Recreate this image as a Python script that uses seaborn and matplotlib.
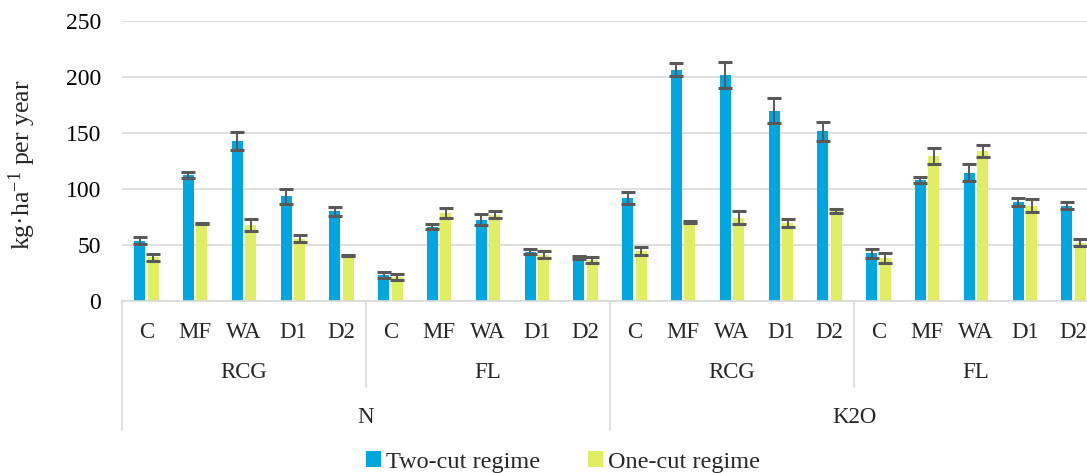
import matplotlib
matplotlib.use("Agg")
import matplotlib.pyplot as plt
import matplotlib.transforms as mtransforms
import seaborn as sns
import pandas as pd
import numpy as np

# ---- data ----
nutrients = ["N", "K2O"]
species = ["RCG", "FL"]
treatments = ["C", "MF", "WA", "D1", "D2"]
regimes = ["Two-cut regime", "One-cut regime"]

two_cut = [54, 112.5, 142.5, 93.5, 80,
           23, 66.5, 72.5, 44, 39,
           92, 206.5, 201.5, 170, 151.5,
           42.5, 108, 114.5, 88.5, 85]
two_cut_err = [3.5, 3, 8, 6.5, 4.2,
               2.5, 2, 5, 2, 1.3,
               5.5, 5.6, 11.7, 11.5, 8.6,
               4.3, 2.5, 7.5, 3.3, 3.3]
one_cut = [39, 69, 67.5, 55.5, 40.5,
           21.5, 78.5, 77, 41.5, 36.5,
           44.5, 70.5, 74.5, 69.5, 80.5,
           38.5, 129.5, 134, 85, 52]
one_cut_err = [3.3, 0.5, 5.3, 3, 0.7,
               2.7, 4.2, 3, 3.3, 2.4,
               3.8, 0.5, 5.8, 3.3, 1.7,
               4.4, 7, 5, 5.8, 3.3]

colors = ["#00A6DF", "#DFEE63"]

# ---- build long table ----
keys, nut_l, sp_l, tr_l = [], [], [], []
for n in nutrients:
    for s in species:
        for t in treatments:
            keys.append(f"{n}|{s}|{t}")
            nut_l.append(n); sp_l.append(s); tr_l.append(t)

df = pd.DataFrame({
    "key": keys * 2,
    "regime": [regimes[0]] * len(keys) + [regimes[1]] * len(keys),
    "value": two_cut + one_cut,
    "err": two_cut_err + one_cut_err,
})

sns.set_theme(style="white")
plt.rcParams["font.family"] = ["Liberation Serif", "DejaVu Serif"]
plt.rcParams["mathtext.fontset"] = "custom"
plt.rcParams["mathtext.rm"] = "Liberation Serif"
plt.rcParams["mathtext.it"] = "Liberation Serif:italic"

W, H = 1087, 473
fig = plt.figure(figsize=(W / 100, H / 100), dpi=100)
ax_left, ax_right = 122, 1098
ax_top, ax_bot = 21, 301
ax = fig.add_axes([ax_left / W, (H - ax_bot) / H, (ax_right - ax_left) / W, (ax_bot - ax_top) / H])

sns.barplot(data=df, x="key", y="value", hue="regime", order=keys, hue_order=regimes,
            palette=colors, width=0.55, gap=0.18, errorbar=None, ax=ax,
            saturation=1, legend=True, linewidth=0)

# error bars from the given errors
err_by_regime = [two_cut_err, one_cut_err]
for cont, errs in zip(ax.containers, err_by_regime):
    xs = [p.get_x() + p.get_width() / 2 for p in cont.patches]
    hs = [p.get_height() for p in cont.patches]
    ax.errorbar(xs, hs, yerr=errs, fmt="none", ecolor="#595959", elinewidth=1.4,
                capsize=5, capthick=2.2, zorder=5)

ax.set_xlim(-0.5, len(keys) - 0.5)
ax.set_ylim(0, 250)
ax.set_yticks([0, 50, 100, 150, 200, 250])
ax.yaxis.grid(True, color="#D9D9D9", linewidth=1.2)
ax.set_axisbelow(True)
for s in ["top", "right", "left"]:
    ax.spines[s].set_visible(False)
ax.spines["bottom"].set_color("#D9D9D9")
ax.spines["bottom"].set_linewidth(1.2)
ax.tick_params(axis="y", length=0, pad=15, labelsize=17, colors="#000000")
ax.set_xticks([])
ax.set_xlabel("")
ax.set_ylabel("kg·ha$^{-1}$ per year", fontsize=18.5)
ax.yaxis.set_label_coords((22 - ax_left) / (ax_right - ax_left), (ax_bot - 165) / (ax_bot - ax_top))
ax.yaxis.label.set_va("center")

# multi-level category axis
trans = mtransforms.blended_transform_factory(ax.transData, ax.transAxes)
axh = ax_bot - ax_top
y_cat = -(332 - ax_bot) / axh
y_sp = -(373 - ax_bot) / axh
y_nut = -(417 - ax_bot) / axh
y_line1 = -(387 - ax_bot) / axh
y_line2 = -(430 - ax_bot) / axh

fs = 16.5
for i, t in enumerate(tr_l):
    ax.text(i, y_cat, t, transform=trans, ha="center", va="center", fontsize=fs)
for g in range(len(nutrients) * len(species)):
    ax.text(g * 5 + 2, y_sp, species[g % 2], transform=trans, ha="center", va="center", fontsize=fs)
for g, n in enumerate(nutrients):
    ax.text(g * 10 + 4.5, y_nut, n, transform=trans, ha="center", va="center", fontsize=fs)

lc = "#D9D9D9"
for xb in [4.5, 14.5]:
    ax.plot([xb, xb], [0, y_line1], transform=trans, color=lc, lw=1.2, clip_on=False)
for xb in [-0.5, 9.5, 19.5]:
    ax.plot([xb, xb], [0, y_line2], transform=trans, color=lc, lw=1.2, clip_on=False)

# legend
handles, labels = ax.get_legend_handles_labels()
ax.get_legend().remove()
fig.legend(handles, labels, loc="center", bbox_to_anchor=(563 / W, (H - 462) / H),
           ncol=2, frameon=False, fontsize=17.5, handlelength=0.6, handleheight=0.6,
           handletextpad=0.2, columnspacing=2.0)

fig.savefig("out.png", dpi=100)
